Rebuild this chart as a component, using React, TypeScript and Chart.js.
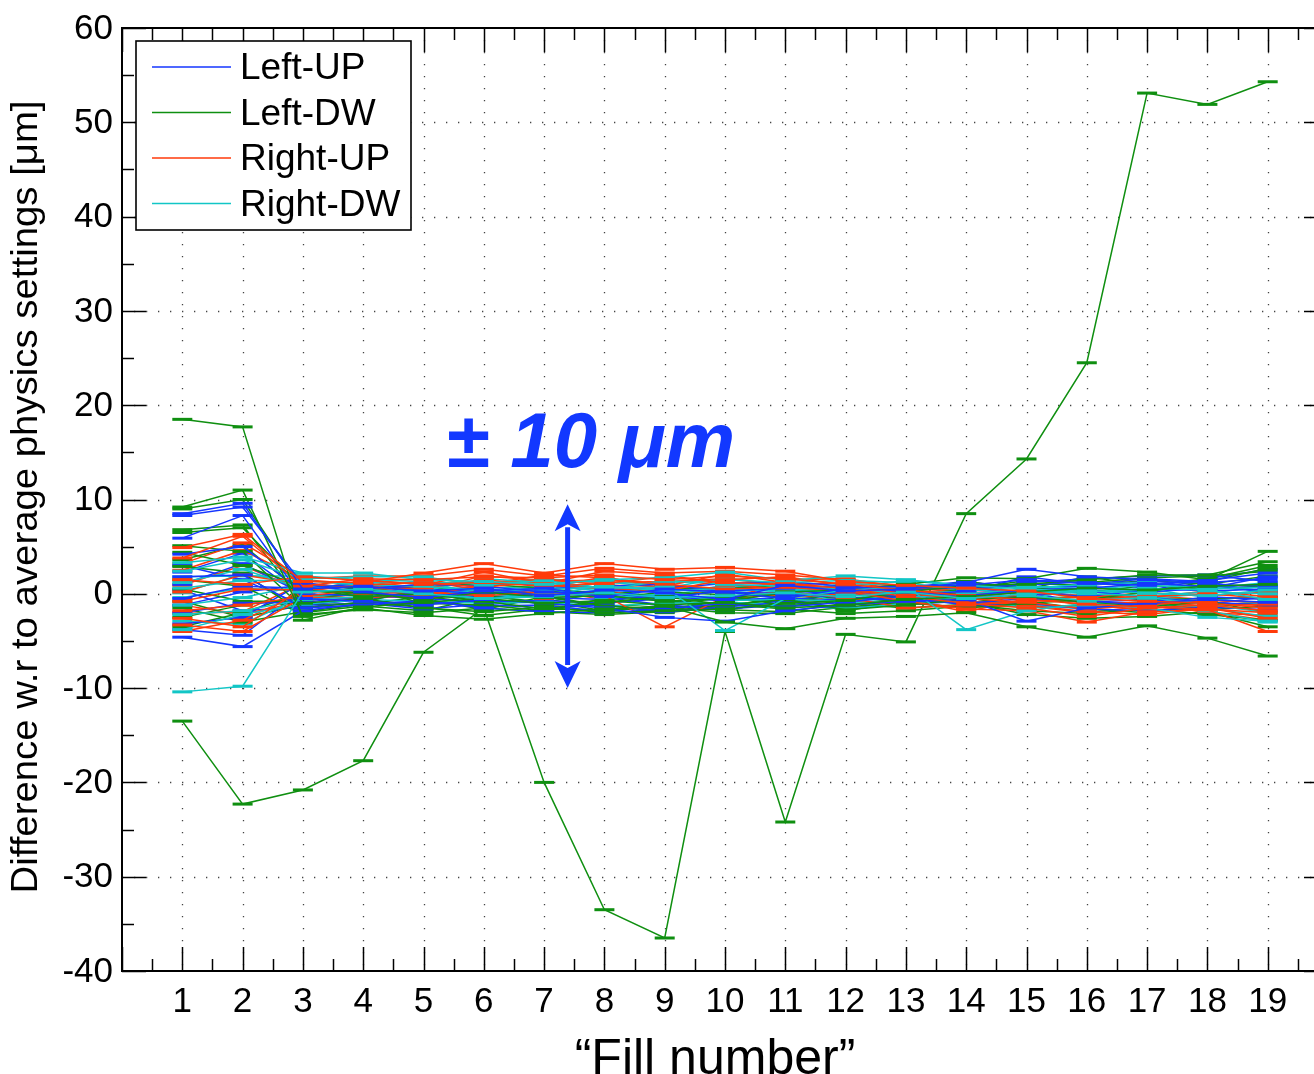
import React, { useEffect, useRef } from "react";
import { Chart, registerables } from "chart.js";

Chart.register(...registerables);

// ---------- data ----------
const fills = [1, 2, 3, 4, 5, 6, 7, 8, 9, 10, 11, 12, 13, 14, 15, 16, 17, 18, 19];
const yTicks = [-40, -30, -20, -10, 0, 10, 20, 30, 40, 50, 60];
const xLabels = ["1", "2", "3", "4", "5", "6", "7", "8", "9", "10", "11", "12", "13", "14", "15", "16", "17", "18", "19"];
const legendLabels = ["Left-UP", "Left-DW", "Right-UP", "Right-DW"];
const xTitle = "\u201CFill number\u201D";
const yTitle = "Difference w.r to average physics settings [\u03BCm]";
const annotationText = "\u00B1 10 \u03BCm";
const arrowRange = [9.5, -10];
const arrowFill = 7.39;

const leftUP: number[][] = [
  [8.5, 9.6, 0.5, 0.8, 0.3, 0.6, -0.2, 0.4, 0.1, -0.6, 0.9, 0.3, 0.5, 1.2, 2.6, 1.8, 1.5, 1.2, 1.6],
  [8.3, 9.2, 1.0, 0.2, -0.4, 0.3, 0.6, -0.3, 0.5, 0.2, -0.5, 0.6, 0.8, 0.9, 1.5, 1.1, 0.9, 1.4, 2.2],
  [5.9, 8.3, -0.5, -0.8, -1.2, -0.6, -1.0, -1.5, -2.5, -2.9, -1.8, -1.2, -0.8, -0.6, -2.9, -1.5, -1.0, -0.6, -0.9],
  [4.2, 5.0, 0.2, 0.5, 1.0, 0.8, 0.2, 0.0, -0.4, 0.3, 0.6, 0.9, 0.2, -0.2, 0.4, 0.6, 1.1, 0.8, 0.9],
  [1.8, 2.0, -1.5, -1.2, -0.7, -1.5, -1.9, -2.0, -1.6, -1.0, -1.4, -0.9, -0.2, 0.3, 1.2, 1.6, 1.9, 2.0, 1.3],
  [-0.5, 0.8, 0.6, 1.1, 0.4, 0.0, 0.5, 0.8, 1.0, 0.2, 0.0, -0.4, -0.7, -1.0, -0.5, -0.8, -1.2, -0.3, -0.6],
  [-2.0, -1.0, -0.9, -0.3, 0.2, 0.5, -0.4, -0.6, -0.2, -0.8, -0.3, 0.2, 0.4, 0.7, 0.9, 1.3, 0.6, 0.3, 0.5],
  [-4.6, -5.6, -1.8, -1.0, -1.6, -1.1, -1.5, -1.2, -1.9, -1.4, -0.9, -0.5, -0.4, -1.2, -1.0, -1.6, -1.8, -1.4, -1.7],
  [1.0, 3.2, 0.0, -0.2, -0.5, -0.9, -0.7, -1.0, -0.5, -0.3, 0.3, 0.0, -0.2, 0.4, 0.2, -0.3, 0.4, 0.9, 0.2],
  [-3.2, -2.5, 1.2, 0.4, 0.7, 1.2, 0.9, 0.5, 0.6, 1.1, 1.3, 0.8, 0.1, -0.5, -0.2, 0.3, -0.4, -0.9, -1.2],
  [3.0, 1.5, -1.2, -0.6, 0.0, -0.3, 0.0, 0.3, -0.9, -0.4, -0.8, -1.5, -1.1, -0.8, 0.6, 0.9, 1.3, 1.1, 0.7],
  [2.3, 4.3, -0.3, 0.1, 0.5, 0.2, 0.1, -0.4, -1.2, -1.8, -0.6, -0.2, 0.3, 1.0, 0.8, 0.4, 0.2, 0.6, 1.8],
  [-1.2, 0.2, 0.9, 0.6, -0.2, -0.5, 0.3, 0.2, 0.8, 0.5, 0.4, 0.1, -0.5, 0.2, 1.8, 1.0, 1.6, 1.3, 0.0],
  [0.4, -1.8, -1.4, -0.9, -0.9, -1.3, -1.2, -1.9, -1.2, -1.6, -1.2, -0.6, -0.6, -0.1, 0.1, -0.9, -0.6, -1.1, -0.3],
  [-3.8, -4.4, 0.4, 0.9, 0.1, 0.9, 1.2, 0.6, 0.2, 0.8, 1.0, 0.5, 0.7, 1.3, 0.5, 0.8, 0.3, 1.6, 2.6],
];

const leftDW: number[][] = [
  [18.5, 17.7, -2.8, -1.4, -0.9, -0.5, -1.0, -0.7, -1.2, -0.9, -1.5, -1.2, -0.6, -0.3, 0.2, 0.6, 0.4, 0.8, 1.0],
  [9.2, 11.0, -2.4, -1.5, -2.3, -2.7, -2.1, -1.6, -1.3, -3.0, -3.7, -2.6, -2.4, -2.0, -3.5, -4.6, -3.4, -4.7, -6.6],
  [9.0, 10.0, 0.3, 0.1, -0.6, 0.2, -0.4, -0.2, -0.8, -0.5, 0.2, 0.4, 1.0, 1.7, 1.6, 2.7, 2.3, 1.5, 4.5],
  [6.8, 7.3, -1.0, -0.5, -1.5, -1.9, -1.4, -2.0, -1.8, -1.6, -1.0, -0.7, 0.2, 0.9, 1.0, 1.5, 2.0, 2.0, 3.4],
  [6.5, 7.0, 0.5, -0.3, 0.0, -0.8, -1.6, -0.9, -0.3, -1.2, -0.6, -1.7, -1.2, -0.6, -0.3, -0.9, -1.4, -0.8, -2.0],
  [5.1, 4.5, -1.5, -0.9, 0.6, 0.5, -0.2, -1.3, -1.6, -0.8, 0.1, -0.3, -0.9, -1.5, -1.0, -0.6, 0.2, 1.3, 2.7],
  [4.4, 3.0, 0.8, 0.6, -1.0, -1.2, -1.8, -0.5, 0.2, -0.1, -1.3, -0.8, -0.2, 0.5, 1.4, 1.2, 1.7, 1.9, 2.4],
  [2.9, 2.2, -2.0, -1.3, -1.8, -0.4, 0.3, 0.2, -0.6, -1.7, -1.9, -1.0, -1.5, -1.1, -1.8, -2.1, -1.6, -2.2, -2.8],
  [0.5, -0.8, -0.8, 0.3, 0.9, 1.0, 0.6, -0.1, 0.5, 0.6, 0.9, 0.2, 0.6, 1.0, 0.7, 0.1, 0.9, 0.5, 0.8],
  [-1.5, -3.0, -1.9, -1.1, -0.3, -1.0, -0.8, -1.8, -1.4, -2.0, -2.1, -1.4, -0.9, -0.4, -1.4, -1.2, -0.9, -1.7, -1.3],
  [-3.5, -2.0, 0.1, -0.8, -1.2, 0.0, -1.2, -1.1, -2.0, -1.4, -0.2, -0.5, -0.3, 0.2, -0.6, -0.2, -0.6, -0.5, -0.4],
  [1.5, 0.8, -2.2, -1.7, -2.0, -1.5, -1.9, -2.2, -1.9, -1.1, -1.6, -2.1, -1.8, -1.3, -0.8, -1.6, -2.0, -1.2, -1.0],
  [-2.5, -1.2, -0.4, 0.0, -0.5, -1.7, -0.3, -1.4, -1.0, -0.5, -0.9, 0.0, 0.4, 0.6, 1.1, 0.9, 1.4, 1.0, 1.9],
  [3.6, 5.2, 0.0, -0.6, 0.3, -0.2, -0.9, 0.1, -0.2, 0.3, -0.4, -0.9, 0.3, 1.3, 0.5, 1.8, 0.9, 1.6, 3.0],
  [-0.8, -2.5, -1.2, -1.0, -1.4, -2.3, -1.6, -1.7, -1.4, -1.3, -0.5, -1.8, -0.8, -0.9, -2.2, -2.6, -2.4, -1.9, -3.5],
  [-13.5, -22.3, -20.8, -17.7, -6.2, -1.5, -20.0, -33.5, -36.5, -4.0, -24.2, -4.3, -5.1, 8.5, 14.3, 24.5, 53.1, 51.9, 54.3],
];

const rightUP: number[][] = [
  [4.9, 6.3, 1.3, 1.2, 2.2, 3.2, 2.2, 3.2, 2.6, 2.8, 2.4, 1.3, 0.9, 0.6, 0.3, -0.5, -0.8, -1.0, -1.5],
  [3.8, 6.1, 0.8, 1.6, 1.5, 1.8, 1.7, 2.0, 1.5, 1.9, 1.6, 1.0, 0.4, -0.2, -0.6, -1.1, -1.4, -1.6, -2.0],
  [1.5, 1.0, 1.8, 1.4, 1.0, 1.2, 0.8, 1.1, 1.8, 1.2, 1.0, 0.6, -0.3, -1.0, -1.5, -2.4, -1.5, -1.2, -1.8],
  [-0.8, 0.5, 0.4, 0.9, 1.2, 0.7, 1.3, 1.5, 1.0, 0.5, 0.7, 0.3, -0.8, -1.6, -1.8, -3.0, -1.9, -1.7, -4.0],
  [-1.8, -1.2, -0.3, 0.5, 0.6, 1.5, 0.9, 0.6, 0.3, 1.5, 1.8, 0.9, 0.0, -0.5, -0.9, -1.6, -1.2, -0.7, -0.9],
  [-2.6, -3.5, 0.6, 0.0, 0.2, -0.2, 0.2, -0.2, -3.5, -0.3, 0.2, -0.4, -1.5, -1.2, -0.8, -0.6, -0.3, 0.0, -0.5],
  [-3.3, -4.0, -0.4, -0.4, -0.2, 0.9, 1.6, 0.9, 0.8, 2.1, 1.2, 0.2, 0.3, 0.1, -0.3, -1.0, -0.9, -1.3, -1.1],
  [0.2, 2.0, 1.0, 0.7, 0.9, 2.3, 1.1, 2.4, 2.0, 1.1, 0.4, 0.7, 0.2, -0.8, -1.2, -1.9, -2.2, -1.5, -2.6],
  [-4.0, -2.8, 0.2, 0.3, -0.6, 0.4, -0.5, 0.3, -0.6, 0.8, -0.4, 0.0, -0.6, -1.9, -0.5, -0.4, 0.1, -0.2, 0.2],
  [2.5, 4.6, 1.5, 1.0, 1.7, 1.0, 2.0, 1.7, 0.9, 0.0, 1.5, 1.6, 0.7, 0.4, 0.1, -0.2, -0.4, 0.3, -0.3],
  [0.9, 3.0, 0.3, 1.4, 0.4, 1.9, 1.4, 1.2, 1.3, 1.6, 0.9, 1.2, 0.5, -0.5, -1.0, -1.5, -0.9, -2.0, -2.3],
  [-2.1, -1.9, 1.1, 0.6, 1.4, 0.3, 0.6, 1.8, 0.5, 0.2, 1.3, 0.4, -0.4, -1.1, -0.2, -1.3, -1.6, -0.9, -1.3],
  [3.2, 5.4, 1.6, 1.9, 1.9, 2.6, 1.9, 2.7, 2.2, 2.4, 2.0, 1.5, 0.6, 0.2, -0.4, -0.8, -0.2, -0.6, -1.0],
  [-1.2, -2.2, -0.8, 0.1, -0.4, 0.0, 0.4, -0.6, 0.0, -0.6, 0.0, -0.8, -1.0, -1.4, -1.3, -2.0, -1.3, -1.9, -2.8],
];

const rightDW: number[][] = [
  [-10.4, -9.8, 0.2, 0.5, 0.0, -0.5, -0.3, 0.1, -0.4, -0.2, 0.1, -0.3, 0.2, -0.5, 0.0, 0.3, 0.1, -0.2, 0.4],
  [3.3, 3.9, 2.2, 2.2, 1.5, 1.3, 1.0, 1.5, 1.7, 2.3, 1.4, 1.9, 1.5, 0.9, 0.5, 0.2, 0.6, 0.4, -0.6],
  [2.4, 3.6, 1.6, 1.8, 1.8, 0.9, 1.4, 0.6, 0.7, -3.9, -0.5, 0.4, 0.8, -3.8, -1.8, -1.0, -1.5, -2.5, -2.9],
  [0.6, 1.4, 1.4, 0.9, 0.8, 0.3, 0.4, 0.8, 0.3, 0.6, 0.2, 1.1, 0.9, 0.6, -0.2, -0.7, -0.4, -1.1, -2.0],
  [-1.2, -0.4, 0.9, 0.2, 0.3, 1.6, 1.2, 0.4, 1.4, 1.0, 0.8, 0.5, 0.0, 0.3, 0.8, 0.5, 0.9, 0.6, 1.2],
  [-2.2, -1.8, -0.6, -0.3, 0.8, 0.4, 0.6, -0.5, 0.0, -0.7, -0.6, -0.8, -0.4, 0.0, 0.4, 0.0, -0.2, 0.2, 0.0],
  [1.2, 2.6, 0.5, 1.2, 1.1, -0.1, -0.4, 1.0, 0.4, 0.2, 0.6, 0.0, -0.9, -0.3, 0.6, 1.0, 1.2, 0.5, 0.7],
  [-3.8, -2.2, -1.1, -0.6, -0.8, -1.0, -0.9, -1.3, -1.0, -0.9, -1.1, -1.6, -1.0, -0.8, -1.2, -1.6, -1.0, -1.8, -3.0],
  [1.8, 1.9, 1.9, 1.5, 1.3, 1.0, 1.6, 1.2, 1.1, 1.5, 1.2, 1.4, 1.2, 0.3, -0.6, 0.7, 0.3, 0.9, 0.3],
  [-0.4, 0.6, 0.3, 1.0, 0.4, -0.6, 0.1, -0.1, 0.8, 0.4, 0.3, 0.8, 0.4, -0.9, -1.4, -1.3, -0.8, -1.5, -2.4],
  [-2.9, -3.2, -0.3, -0.1, -0.3, 0.6, 0.8, 0.3, -0.3, 0.9, 0.5, -1.0, -0.6, -0.2, 0.3, 0.4, -0.5, 0.0, 0.9],
  [0.1, 2.1, 1.1, 0.5, 1.0, 0.2, -0.1, 1.3, 0.6, 1.7, 0.9, 0.7, 1.4, 0.8, 0.2, -0.2, 0.5, -0.4, -1.2],
];

// ---------- styles ----------
const COLORS = ["#1536ff", "#0f8f10", "#ff3a0a", "#12c6c6"];
const ANNOT_COLOR = "#1238ff";
const FONT = '"Liberation Sans", Arial, Helvetica, sans-serif';
const CW = 1360;
const CH = 1074;
const X_MIN = 0, X_MAX = 20, Y_MIN = -40, Y_MAX = 60;

function makeDataset(series: number[], color: string) {
  return {
    data: fills.map((f, i) => ({ x: f, y: series[i] })),
    borderColor: color,
    backgroundColor: color,
    borderWidth: 1.5,
    pointStyle: "line" as const,
    pointRadius: 10,
    pointHoverRadius: 10,
    pointBorderWidth: 3,
    pointBorderColor: color,
    fill: false,
    tension: 0,
  };
}

const matlabPlugin = {
  id: "matlabAxes",
  beforeDatasetsDraw(chart: any) {
    const { ctx, chartArea: a, scales } = chart;
    const x = scales.x, y = scales.y;
    ctx.save();
    ctx.strokeStyle = "#444";
    ctx.lineWidth = 1.3;
    ctx.setLineDash([1.3, 10.7]);
    for (const f of fills) {
      const px = Math.round(x.getPixelForValue(f)) + 0.5;
      ctx.beginPath();
      ctx.moveTo(px, a.top);
      ctx.lineTo(px, a.bottom);
      ctx.stroke();
    }
    for (const v of yTicks) {
      if (v === Y_MIN || v === Y_MAX) continue;
      const py = Math.round(y.getPixelForValue(v)) + 0.5;
      ctx.beginPath();
      ctx.moveTo(a.left, py);
      ctx.lineTo(a.right, py);
      ctx.stroke();
    }
    ctx.restore();
  },
  afterDraw(chart: any) {
    const { ctx, chartArea: a, scales } = chart;
    const x = scales.x, y = scales.y;
    ctx.save();
    ctx.setLineDash([]);
    // ticks
    ctx.strokeStyle = "#000";
    ctx.lineWidth = 1.5;
    const tick = (x1: number, y1: number, x2: number, y2: number) => {
      ctx.beginPath();
      ctx.moveTo(x1, y1);
      ctx.lineTo(x2, y2);
      ctx.stroke();
    };
    for (let v = Y_MIN; v <= Y_MAX; v += 5) {
      const py = Math.round(y.getPixelForValue(v)) + 0.5;
      const len = v % 10 === 0 ? 24 : 12;
      tick(a.left, py, a.left + len, py);
      tick(a.right, py, a.right - len, py);
    }
    for (let v = X_MIN; v <= X_MAX; v += 0.5) {
      const px = Math.round(x.getPixelForValue(v)) + 0.5;
      const len = Number.isInteger(v) ? 24 : 12;
      tick(px, a.bottom, px, a.bottom - len);
      tick(px, a.top, px, a.top + len);
    }
    // frame
    ctx.lineWidth = 2;
    ctx.strokeRect(a.left, a.top, a.right - a.left, a.bottom - a.top);

    // tick labels
    ctx.fillStyle = "#000";
    ctx.font = `35px ${FONT}`;
    ctx.textAlign = "right";
    ctx.textBaseline = "middle";
    for (const v of yTicks) {
      ctx.fillText(String(v), a.left - 9, y.getPixelForValue(v) + 1);
    }
    ctx.textAlign = "center";
    fills.forEach((f, i) => {
      ctx.fillText(xLabels[i], x.getPixelForValue(f), a.bottom + 31);
    });

    // axis titles
    ctx.font = `50px ${FONT}`;
    ctx.textBaseline = "alphabetic";
    ctx.fillText(xTitle, 715, 1074);

    ctx.save();
    ctx.translate(27, 497);
    ctx.rotate(-Math.PI / 2);
    ctx.font = `37px ${FONT}`;
    ctx.textBaseline = "middle";
    const tw = ctx.measureText(yTitle).width;
    ctx.scale(793 / tw, 1);
    ctx.fillText(yTitle, 0, 0);
    ctx.restore();

    // legend
    const lx = 136, ly = 41, lw = 275, lh = 189;
    ctx.fillStyle = "#fff";
    ctx.fillRect(lx, ly, lw, lh);
    ctx.strokeStyle = "#000";
    ctx.lineWidth = 1.6;
    ctx.strokeRect(lx, ly, lw, lh);
    ctx.font = `37px ${FONT}`;
    ctx.textAlign = "left";
    ctx.textBaseline = "middle";
    legendLabels.forEach((lab, i) => {
      const yy = ly + 26 + i * 45.5;
      ctx.strokeStyle = COLORS[i];
      ctx.lineWidth = 1.5;
      ctx.beginPath();
      ctx.moveTo(152, yy);
      ctx.lineTo(231, yy);
      ctx.stroke();
      ctx.fillStyle = "#000";
      ctx.fillText(lab, 240, yy + 2);
    });

    // annotation text
    ctx.fillStyle = ANNOT_COLOR;
    ctx.font = `italic bold 78px ${FONT}`;
    ctx.textAlign = "left";
    ctx.textBaseline = "alphabetic";
    ctx.fillText(annotationText, x.getPixelForValue(5.37), y.getPixelForValue(13.4));

    // double arrow
    const ax = x.getPixelForValue(arrowFill);
    const yTop = y.getPixelForValue(arrowRange[0]);
    const yBot = y.getPixelForValue(arrowRange[1]);
    const hh = 27, hw = 13;
    ctx.strokeStyle = ANNOT_COLOR;
    ctx.lineWidth = 5;
    ctx.beginPath();
    ctx.moveTo(ax, yTop + hh - 4);
    ctx.lineTo(ax, yBot - hh + 4);
    ctx.stroke();
    const head = (tipY: number, dir: number) => {
      ctx.beginPath();
      ctx.moveTo(ax, tipY);
      ctx.lineTo(ax - hw, tipY + dir * hh);
      ctx.lineTo(ax, tipY + dir * (hh - 7));
      ctx.lineTo(ax + hw, tipY + dir * hh);
      ctx.closePath();
      ctx.fill();
    };
    head(yTop, 1);
    head(yBot, -1);
    ctx.restore();
  },
};

export default function App() {
  const canvasRef = useRef<HTMLCanvasElement | null>(null);

  useEffect(() => {
    if (!canvasRef.current) return;
    const datasets: any[] = [];
    // interleave the four groups so colours mix in the dense band
    const groups: [number[][], string][] = [
      [rightUP, COLORS[2]],
      [leftUP, COLORS[0]],
      [rightDW, COLORS[3]],
      [leftDW, COLORS[1]],
    ];
    const maxLen = Math.max(...groups.map((g) => g[0].length));
    for (let i = 0; i < maxLen; i++) {
      for (const [g, c] of groups) {
        if (i < g.length) datasets.push(makeDataset(g[i], c));
      }
    }

    const chart = new Chart(canvasRef.current, {
      type: "line",
      data: { datasets },
      options: {
        animation: false,
        responsive: false,
        maintainAspectRatio: false,
        devicePixelRatio: 1,
        layout: { padding: { left: 122, right: CW - 1328, top: 28, bottom: CH - 971 } },
        scales: {
          x: { type: "linear", min: X_MIN, max: X_MAX, display: false },
          y: { type: "linear", min: Y_MIN, max: Y_MAX, display: false },
        },
        plugins: {
          legend: { display: false },
          tooltip: { enabled: false },
        },
        events: [],
      },
      plugins: [matlabPlugin],
    });
    return () => chart.destroy();
  }, []);

  return (
    <div
      style={{
        position: "fixed",
        left: 0,
        top: 0,
        width: 1314,
        height: 1074,
        overflow: "hidden",
        background: "#fff",
      }}
    >
      <canvas ref={canvasRef} width={CW} height={CH} style={{ width: CW, height: CH, display: "block" }} />
    </div>
  );
}
